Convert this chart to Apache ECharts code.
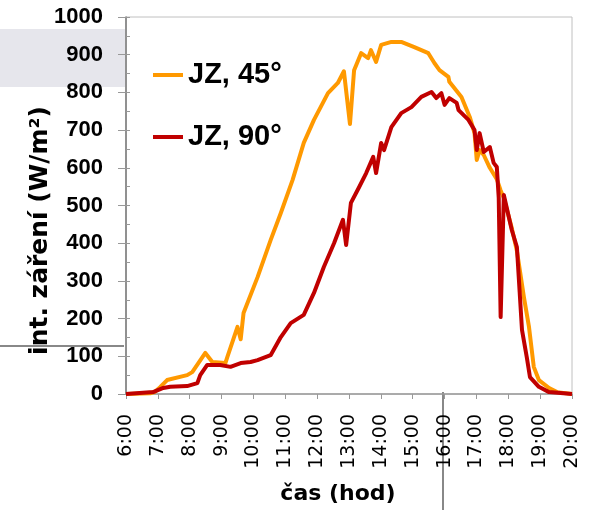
<!DOCTYPE html>
<html>
<head>
<meta charset="utf-8">
<script src="https://cdn.jsdelivr.net/npm/echarts@6/dist/echarts.min.js"></script>
<style>
  html, body { margin: 0; padding: 0; background: #fff; }
  #chart { width: 594px; height: 510px; }
</style>
</head>
<body>
<div id="chart"></div>
<script>
// JZ, 45°  [hour, W/m2]
const jz45 = [
  [6.00, 0], [6.76, 2], [6.91, 6], [7.07, 18], [7.29, 37], [7.92, 50], [8.08, 58],
  [8.49, 109], [8.71, 85], [9.12, 82], [9.18, 98], [9.50, 178], [9.60, 145], [9.69, 215],
  [10.13, 310], [10.54, 408], [10.86, 480], [11.23, 568], [11.58, 666], [11.90, 727],
  [12.34, 798], [12.65, 825], [12.84, 856], [13.03, 716], [13.16, 859], [13.38, 904],
  [13.60, 891], [13.69, 912], [13.85, 881], [14.01, 926], [14.33, 934], [14.64, 934],
  [15.05, 920], [15.49, 904], [15.68, 878], [15.84, 859], [16.12, 841], [16.15, 828],
  [16.53, 788], [16.79, 735], [16.94, 692], [17.01, 621], [17.10, 647], [17.23, 634],
  [17.42, 600], [17.64, 570], [17.76, 540], [17.86, 520], [18.11, 440], [18.27, 380],
  [18.49, 257], [18.65, 178], [18.80, 72], [18.96, 37], [19.28, 16], [19.53, 5], [20.00, 0]
];

// JZ, 90°  [hour, W/m2]
const jz90 = [
  [6.00, 0], [6.85, 5], [7.17, 16], [7.39, 19], [7.92, 21], [8.24, 29], [8.33, 50],
  [8.55, 77], [8.96, 77], [9.28, 72], [9.60, 82], [9.91, 85], [10.13, 90], [10.54, 103],
  [10.86, 151], [11.17, 188], [11.58, 210], [11.90, 268], [12.21, 337], [12.53, 400],
  [12.81, 462], [12.91, 395], [13.06, 507], [13.32, 549], [13.54, 586], [13.76, 629],
  [13.85, 586], [14.01, 666], [14.10, 647], [14.33, 708], [14.64, 745], [14.96, 761],
  [15.27, 788], [15.59, 801], [15.74, 785], [15.90, 798], [16.00, 767], [16.15, 785],
  [16.38, 772], [16.44, 753], [16.75, 727], [16.94, 700], [17.01, 647], [17.10, 692],
  [17.23, 642], [17.42, 655], [17.54, 613], [17.64, 602], [17.70, 520], [17.76, 204],
  [17.86, 528], [18.11, 435], [18.27, 390], [18.43, 170], [18.58, 98], [18.68, 45],
  [18.96, 19], [19.28, 5], [20.00, 0]
];

const seriesNames = ['JZ, 45°', 'JZ, 90°'];
const hourTicks = [6, 7, 8, 9, 10, 11, 12, 13, 14, 15, 16, 17, 18, 19, 20];

const chart = echarts.init(document.getElementById('chart'));

chart.setOption({
  animation: false,
  backgroundColor: '#fff',
  grid: {
    left: 126, right: 22, top: 17, bottom: 116,
    show: true, borderColor: '#c0c0c0', borderWidth: 1
  },
  legend: {
    orient: 'vertical',
    left: 148, top: 55,
    itemWidth: 30, itemHeight: 4, itemGap: 32,
    icon: 'rect',
    data: seriesNames,
    textStyle: {
      fontFamily: 'Liberation Sans', fontWeight: 'bold', fontSize: 29,
      lineHeight: 30, color: '#000'
    }
  },
  xAxis: {
    type: 'value',
    min: hourTicks[0], max: hourTicks[hourTicks.length - 1], interval: 1,
    name: 'čas (hod)',
    nameLocation: 'middle',
    nameGap: 89,
    nameMoveOverlap: false,
    nameTextStyle: {
      fontFamily: 'DejaVu Sans', fontWeight: 'bold', fontSize: 22, color: '#000',
      padding: [0, 22, 0, 0]
    },
    splitLine: { show: false },
    axisLine: { lineStyle: { color: '#999', width: 1.5 } },
    axisTick: { length: 5, lineStyle: { color: '#999' } },
    axisLabel: {
      rotate: 90, margin: 20, color: '#000',
      fontFamily: 'DejaVu Sans', fontSize: 19,
      formatter: v => v + ':00'
    }
  },
  yAxis: [
    {
      type: 'value',
      min: 0, max: 1000, interval: 100,
      name: 'int. záření (W/m²)',
      nameLocation: 'middle',
      nameGap: 73,
      nameMoveOverlap: false,
      nameTextStyle: {
        fontFamily: 'DejaVu Sans', fontWeight: 'bold', fontSize: 25, color: '#000',
        padding: [0, 50, 0, 0]
      },
      splitLine: { show: false },
      axisLine: { show: true, lineStyle: { color: '#777', width: 1.5 } },
      axisTick: { length: 8, lineStyle: { color: '#999' } },
      axisLabel: {
        margin: 23, color: '#000',
        fontFamily: 'Liberation Sans', fontWeight: 'bold', fontSize: 22,
        formatter: v => String(v)
      }
    },
    {
      type: 'value',
      position: 'left',
      min: 0, max: 1000, interval: 50,
      splitLine: { show: false },
      axisLine: { show: false },
      axisLabel: { show: false },
      axisTick: { inside: true, length: 4, lineStyle: { color: '#999' } }
    }
  ],
  series: [
    {
      name: seriesNames[0], type: 'line', data: jz45,
      showSymbol: false, color: '#ff9900',
      lineStyle: { width: 4, color: '#ff9900', join: 'round' }
    },
    {
      name: seriesNames[1], type: 'line', data: jz90,
      showSymbol: false, color: '#c00000',
      lineStyle: { width: 4, color: '#c00000', join: 'round' }
    }
  ],
  graphic: [
    { type: 'rect', z: -1, shape: { x: 0, y: 29, width: 125, height: 58 }, style: { fill: '#e6e6ec' } },
    { type: 'line', shape: { x1: 0, y1: 346, x2: 124, y2: 346 }, style: { stroke: '#888', lineWidth: 2 } },
    { type: 'line', shape: { x1: 443, y1: 392, x2: 443, y2: 510 }, style: { stroke: '#888', lineWidth: 2 } }
  ]
});
</script>
</body>
</html>
